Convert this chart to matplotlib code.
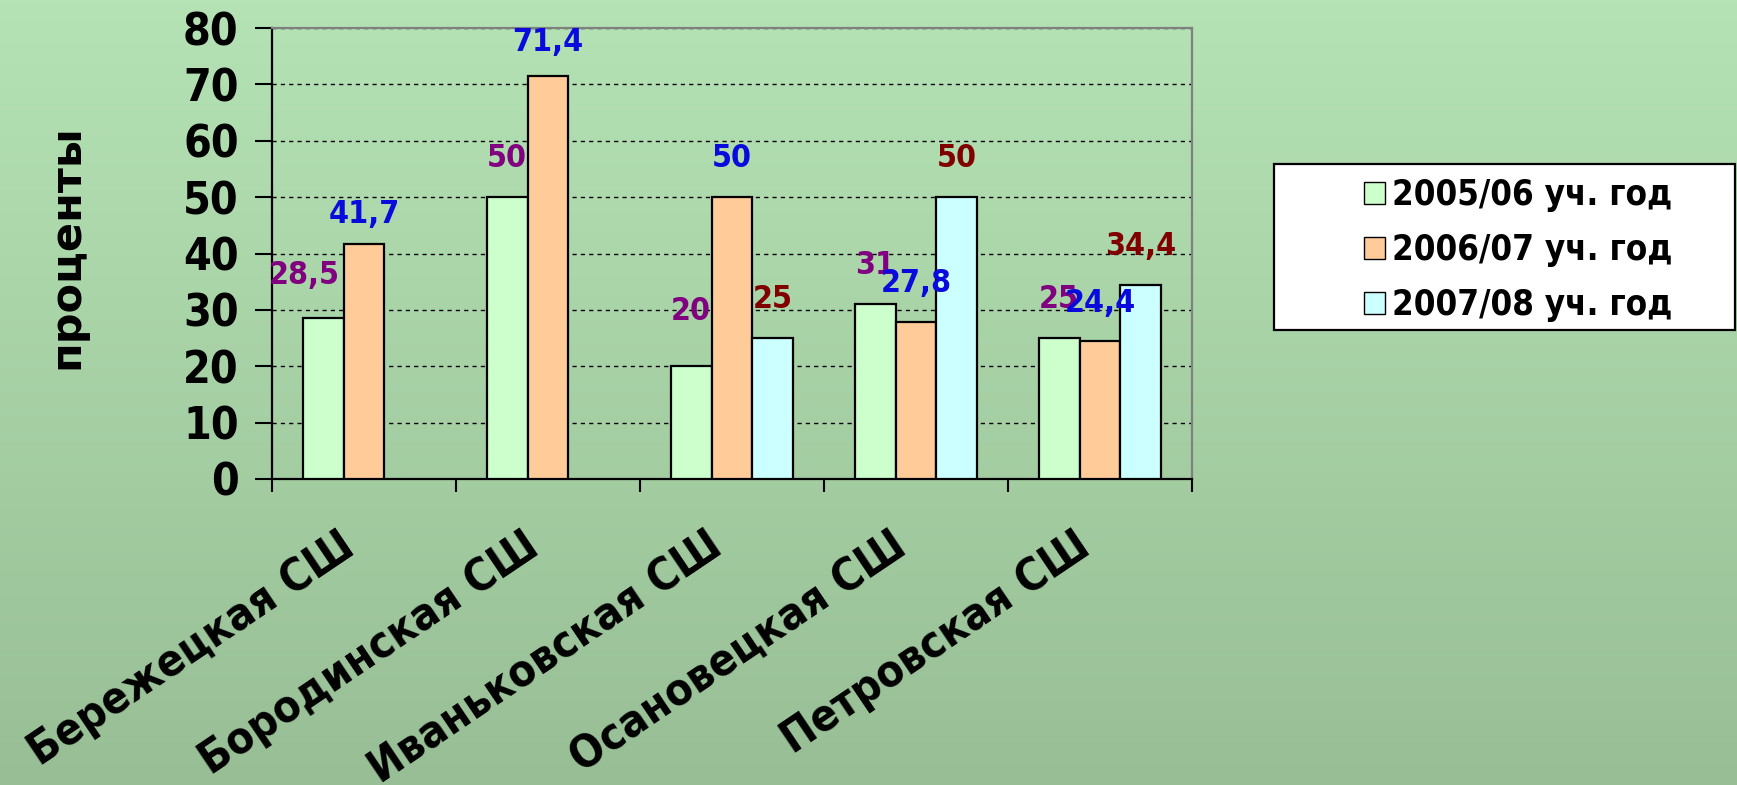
import numpy as np
import matplotlib.pyplot as plt
from matplotlib import font_manager
from matplotlib.patches import Rectangle, Patch

schools = ['Бережецкая СШ', 'Бородинская СШ', 'Иваньковская СШ',
           'Осановецкая СШ', 'Петровская СШ']
years = ['2005/06 уч. год', '2006/07 уч. год', '2007/08 уч. год']
y2005 = [28.5, 50, 20, 31, 25]
y2006 = [41.7, 71.4, 50, 27.8, 24.4]
y2007 = [None, None, 25, 50, 34.4]

colors = ['#CCFFCC', '#FFCC99', '#CCFFFF']
lab_colors = ['#800080', '#0A0ADC', '#800000']

fnt = dict(family='DejaVu Sans', stretch='condensed', weight='bold')

fig = plt.figure(figsize=(17.37, 7.85), dpi=100)

# fond en dégradé vertical
bg = fig.add_axes([0, 0, 1, 1], zorder=-10)
grad = np.linspace(0, 1, 256)[:, None]
top = np.array([181, 227, 181]) / 255
bot = np.array([152, 190, 149]) / 255
img = top[None, None, :] * (1 - grad[:, :, None]) + bot[None, None, :] * grad[:, :, None]
bg.imshow(img, aspect='auto', extent=[0, 1, 0, 1])
bg.axis('off')

ax = fig.add_axes([272/1737, 1 - 479/785, 920/1737, 451/785])
ax.set_facecolor('none')

x = np.arange(len(schools))
w = 0.2222
series = [y2005, y2006, y2007]
# décalages des étiquettes (placées à la main dans l'original)
shift = {(0, 0): (-0.1, 7.6), (0, 2): (0, 9.7), (1, 0): (0, 5.2), (1, 1): (0, 6.0)}
for i, vals in enumerate(series):
    for j, v in enumerate(vals):
        if v is None:
            continue
        xc = x[j] + (i - 1) * w
        ax.bar(xc, v, width=w, color=colors[i], edgecolor='black', linewidth=1.6, zorder=3)
        dx, dy = shift.get((i, j), (0, 6.8))
        ax.text(xc + dx, v + dy, ('%g' % v).replace('.', ','), color=lab_colors[i],
                ha='center', va='center', fontsize=23, zorder=4, **fnt)

ax.set_xlim(-0.5, 4.5)
ax.set_ylim(0, 80)
ax.set_yticks(np.arange(0, 81, 10))
ax.yaxis.grid(True, color='black', linestyle=(0, (3, 3)), linewidth=1)
ax.set_axisbelow(True)
ax.tick_params(axis='y', length=12, width=1.5, pad=12)
for t in ax.get_yticklabels():
    t.set_fontproperties(font_manager.FontProperties(size=32, **fnt))

ax.set_xticks([])
ax.set_xticks(np.arange(-0.5, 5, 1), minor=True)
ax.tick_params(axis='x', which='minor', length=9, width=1.5, labelbottom=False)
trans = ax.get_xaxis_transform()
for j, name in enumerate(schools):
    ax.text(x[j] - 0.14, -0.1, name, transform=trans, rotation=34,
            rotation_mode='anchor', ha='right', va='top', fontsize=32, **fnt)

for s in ['left', 'bottom']:
    ax.spines[s].set_linewidth(1.6)
    ax.spines[s].set_color('black')
for s in ['top', 'right']:
    ax.spines[s].set_linewidth(1.6)
    ax.spines[s].set_color('#808080')

fig.text(66/1737, 1 - 247/785, 'проценты', rotation=90, ha='center', va='center',
         fontsize=31, weight='bold', family='DejaVu Sans')

# légende
fig.patches.append(Rectangle((1274/1737, 1 - 330/785), 461/1737, 166/785,
                             transform=fig.transFigure, facecolor='white',
                             edgecolor='black', linewidth=1.6, zorder=1))
handles = [Patch(facecolor=c, edgecolor='black', linewidth=1) for c in colors]
leg = fig.legend(handles, years, loc='center left', bbox_to_anchor=(1364/1737, 1 - 250/785),
                 frameon=False, handlelength=0.6, handleheight=0.6, handletextpad=0.2,
                 labelspacing=0.6, borderpad=0, borderaxespad=0,
                 prop=font_manager.FontProperties(size=25, **fnt))

fig.savefig('out.png', dpi=100)
